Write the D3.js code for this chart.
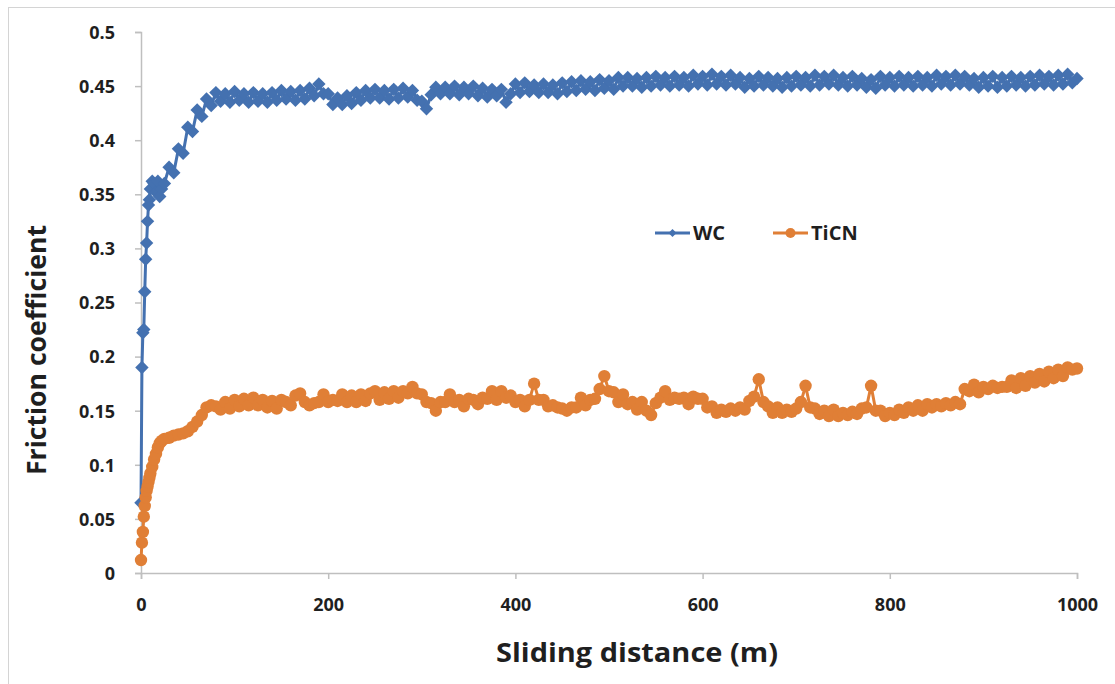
<!DOCTYPE html>
<html>
<head>
<meta charset="utf-8">
<script src="https://cdn.jsdelivr.net/npm/d3@7"></script>
<style>
  body { margin: 0; background: #fff; }
  text { font-family: "Open Sans", "Noto Sans", sans-serif; font-weight: bold; fill: #1f1f1f; }
</style>
</head>
<body>
<div id="chart"></div>
<script>
// sliding distance (m) of each sample
const distance = [
  0, 1, 2, 3, 4, 5, 6, 7, 8, 9, 10, 12, 14, 16, 18, 20, 22, 25,
  30, 35, 40, 45, 50, 55, 60, 65, 70, 75,
  80, 85, 90, 95, 100, 105, 110, 115, 120, 125,
  130, 135, 140, 145, 150, 155, 160, 165, 170, 175,
  180, 185, 190, 195, 200, 205, 210, 215, 220, 225,
  230, 235, 240, 245, 250, 255, 260, 265, 270, 275,
  280, 285, 290, 295, 300, 305, 310, 315, 320, 325,
  330, 335, 340, 345, 350, 355, 360, 365, 370, 375,
  380, 385, 390, 395, 400, 405, 410, 415, 420, 425,
  430, 435, 440, 445, 450, 455, 460, 465, 470, 475,
  480, 485, 490, 495, 500, 505, 510, 515, 520, 525,
  530, 535, 540, 545, 550, 555, 560, 565, 570, 575,
  580, 585, 590, 595, 600, 605, 610, 615, 620, 625,
  630, 635, 640, 645, 650, 655, 660, 665, 670, 675,
  680, 685, 690, 695, 700, 705, 710, 715, 720, 725,
  730, 735, 740, 745, 750, 755, 760, 765, 770, 775,
  780, 785, 790, 795, 800, 805, 810, 815, 820, 825,
  830, 835, 840, 845, 850, 855, 860, 865, 870, 875,
  880, 885, 890, 895, 900, 905, 910, 915, 920, 925,
  930, 935, 940, 945, 950, 955, 960, 965, 970, 975,
  980, 985, 990, 995, 1000
];

const wc = [
  0.065, 0.19, 0.222, 0.225, 0.26, 0.29, 0.305, 0.325, 0.34, 0.345, 0.355, 0.362, 0.36, 0.352, 0.362, 0.348, 0.355, 0.36,
  0.375, 0.37, 0.392, 0.388, 0.412, 0.408, 0.428, 0.422, 0.438, 0.432,
  0.444, 0.436, 0.443, 0.435, 0.445, 0.437, 0.443, 0.435, 0.444, 0.436,
  0.443, 0.435, 0.444, 0.437, 0.446, 0.438, 0.445, 0.437, 0.446, 0.438,
  0.448, 0.441, 0.452, 0.443, 0.443, 0.433, 0.439, 0.433, 0.441, 0.434,
  0.444, 0.437, 0.446, 0.439, 0.447, 0.439, 0.446, 0.438, 0.447, 0.439,
  0.448, 0.44, 0.446, 0.437, 0.436, 0.429, 0.442, 0.449, 0.443, 0.449,
  0.443, 0.45, 0.442, 0.449, 0.443, 0.45, 0.441, 0.448, 0.44, 0.447,
  0.441, 0.447, 0.435, 0.443, 0.452, 0.444, 0.453, 0.445, 0.451, 0.444,
  0.452, 0.444, 0.451, 0.443, 0.453, 0.445, 0.454, 0.446, 0.455, 0.447,
  0.454, 0.446, 0.456, 0.448, 0.455, 0.447, 0.458, 0.45, 0.458, 0.45,
  0.457, 0.449, 0.458, 0.45, 0.459, 0.451, 0.458, 0.45, 0.459, 0.451,
  0.458, 0.45, 0.46, 0.452, 0.459, 0.451, 0.461, 0.452, 0.459, 0.451,
  0.46, 0.452, 0.458, 0.449, 0.457, 0.45, 0.459, 0.451, 0.458, 0.45,
  0.457, 0.449, 0.458, 0.45, 0.459, 0.451, 0.458, 0.45, 0.46, 0.451,
  0.459, 0.452, 0.46, 0.451, 0.458, 0.45, 0.459, 0.451, 0.457, 0.449,
  0.456, 0.448, 0.459, 0.451, 0.458, 0.45, 0.459, 0.451, 0.458, 0.45,
  0.459, 0.451, 0.458, 0.45, 0.46, 0.452, 0.459, 0.451, 0.46, 0.452,
  0.459, 0.451, 0.457, 0.449, 0.458, 0.45, 0.459, 0.449, 0.458, 0.45,
  0.459, 0.451, 0.458, 0.45, 0.459, 0.451, 0.46, 0.452, 0.459, 0.451,
  0.46, 0.452, 0.461, 0.453, 0.457
];

const ticn = [
  0.012, 0.028, 0.038, 0.052, 0.062, 0.07, 0.076, 0.08, 0.084, 0.088, 0.092, 0.098, 0.105, 0.11, 0.116, 0.12, 0.122, 0.124,
  0.125, 0.127, 0.128, 0.129, 0.131, 0.135, 0.14, 0.146, 0.153, 0.155,
  0.154, 0.151, 0.158, 0.152, 0.16, 0.154, 0.161, 0.155, 0.162, 0.155,
  0.16, 0.153, 0.159, 0.152, 0.16, 0.158, 0.155, 0.164, 0.166, 0.158,
  0.155, 0.157, 0.158, 0.165, 0.158, 0.16, 0.159, 0.165, 0.158, 0.164,
  0.158, 0.165, 0.159, 0.166, 0.168, 0.16, 0.167, 0.161, 0.168, 0.162,
  0.168, 0.166, 0.172, 0.166, 0.165, 0.158, 0.157, 0.15, 0.158, 0.158,
  0.165, 0.158, 0.16, 0.154, 0.161, 0.16, 0.156, 0.162, 0.161, 0.168,
  0.16, 0.168, 0.162, 0.164, 0.158, 0.16, 0.154, 0.16, 0.175, 0.16,
  0.16, 0.154, 0.155, 0.153, 0.152, 0.15, 0.153, 0.153, 0.162, 0.155,
  0.16, 0.161, 0.17, 0.182, 0.168, 0.167, 0.158, 0.165, 0.156, 0.158,
  0.151, 0.158, 0.15, 0.146, 0.157, 0.162, 0.168, 0.16, 0.162, 0.161,
  0.162, 0.156, 0.163, 0.161, 0.161, 0.153, 0.154, 0.148, 0.151, 0.149,
  0.152, 0.15, 0.153, 0.151, 0.159, 0.163, 0.179, 0.158, 0.154, 0.148,
  0.153, 0.148, 0.151, 0.149, 0.152, 0.158, 0.173, 0.153, 0.152, 0.147,
  0.15, 0.145, 0.151, 0.145, 0.148, 0.146, 0.149, 0.147, 0.152, 0.153,
  0.173, 0.15, 0.15, 0.145, 0.148, 0.146, 0.151, 0.148, 0.153, 0.15,
  0.155, 0.15, 0.156, 0.153, 0.156, 0.154, 0.157, 0.155, 0.158, 0.156,
  0.17, 0.168, 0.174, 0.167, 0.172, 0.17, 0.173, 0.171, 0.172, 0.172,
  0.178, 0.171, 0.18, 0.173, 0.182, 0.176, 0.184, 0.177, 0.186, 0.18,
  0.188, 0.182, 0.19, 0.188, 0.189
];

const xTicks = [0, 200, 400, 600, 800, 1000];
const yTicks = [0, 0.05, 0.1, 0.15, 0.2, 0.25, 0.3, 0.35, 0.4, 0.45, 0.5];

const width = 1115, height = 684;
const blue = '#4471b0', orange = '#e07f36', axisGrey = '#bfbfbf';

const svg = d3.select('#chart')
  .append('svg')
  .attr('width', width)
  .attr('height', height);

svg.append('rect')
  .attr('x', 8.5).attr('y', 7.5)
  .attr('width', 1200).attr('height', 800)
  .attr('fill', '#fff')
  .attr('stroke', '#d4d4d4');

const x = d3.scaleLinear().domain([0, 1000]).range([141, 1077]);
const y = d3.scaleLinear().domain([0, 0.5]).range([573, 32]);

// axes
const xAxis = svg.append('g')
  .attr('transform', `translate(0,${y(0)})`)
  .call(d3.axisBottom(x).tickValues(xTicks).tickSize(6).tickPadding(18).tickFormat(d3.format('d')));

const yAxis = svg.append('g')
  .attr('transform', `translate(${x(0)},0)`)
  .call(d3.axisLeft(y).tickValues(yTicks).tickSize(6).tickPadding(20).tickFormat(d => d === 0 ? '0' : String(d)));

[xAxis, yAxis].forEach(a => {
  a.select('.domain').attr('stroke', axisGrey).attr('stroke-width', 1.5);
  a.selectAll('.tick line').attr('stroke', axisGrey).attr('stroke-width', 1.5);
  a.selectAll('.tick text')
    .attr('fill', '#1f1f1f')
    .style('font-size', '18px')
    .style('font-family', '"Open Sans", sans-serif')
    .style('font-weight', 'bold');
});
yAxis.selectAll('.tick text').attr('dy', '0.35em');
xAxis.selectAll('.tick text').attr('dy', '0.75em');

// axis titles
svg.append('text')
  .attr('x', 637).attr('y', 662)
  .attr('text-anchor', 'middle')
  .attr('textLength', 282).attr('lengthAdjust', 'spacingAndGlyphs')
  .style('font-size', '27px')
  .text('Sliding distance (m)');

svg.append('text')
  .attr('transform', 'translate(46,350) rotate(-90)')
  .attr('text-anchor', 'middle')
  .attr('textLength', 250).attr('lengthAdjust', 'spacingAndGlyphs')
  .style('font-size', '26px')
  .text('Friction coefficient');

// series
const pts = s => distance.map((d, i) => [x(d), y(s[i])]);
const line = d3.line();
const diamond = d3.symbol().type(d3.symbolDiamond2).size(115);
const legendDiamond = d3.symbol().type(d3.symbolDiamond2).size(40);

const series = [
  { name: 'WC', values: wc, color: blue, shape: 'diamond' },
  { name: 'TiCN', values: ticn, color: orange, shape: 'circle' }
];

series.forEach(s => {
  const p = pts(s.values);
  const g = svg.append('g');
  g.append('path')
    .attr('d', line(p))
    .attr('fill', 'none')
    .attr('stroke', s.color)
    .attr('stroke-width', 3);
  if (s.shape === 'diamond') {
    g.selectAll('path.m').data(p).enter().append('path')
      .attr('class', 'm')
      .attr('d', diamond)
      .attr('transform', d => `translate(${d[0]},${d[1]})`)
      .attr('fill', s.color);
  } else {
    g.selectAll('circle').data(p).enter().append('circle')
      .attr('cx', d => d[0]).attr('cy', d => d[1])
      .attr('r', 6.2)
      .attr('fill', s.color);
  }
});

// legend
const legend = svg.append('g');
const legendX = [655, 773];
series.forEach((s, i) => {
  const lx = legendX[i], ly = 233;
  legend.append('line')
    .attr('x1', lx).attr('x2', lx + 35)
    .attr('y1', ly).attr('y2', ly)
    .attr('stroke', s.color).attr('stroke-width', 3);
  if (s.shape === 'diamond') {
    legend.append('path')
      .attr('d', legendDiamond)
      .attr('transform', `translate(${lx + 17.5},${ly})`)
      .attr('fill', s.color);
  } else {
    legend.append('circle')
      .attr('cx', lx + 17.5).attr('cy', ly).attr('r', 5)
      .attr('fill', s.color);
  }
  legend.append('text')
    .attr('x', lx + 38).attr('y', ly + 7)
    .style('font-size', '20px')
    .text(s.name);
});
</script>
</body>
</html>
